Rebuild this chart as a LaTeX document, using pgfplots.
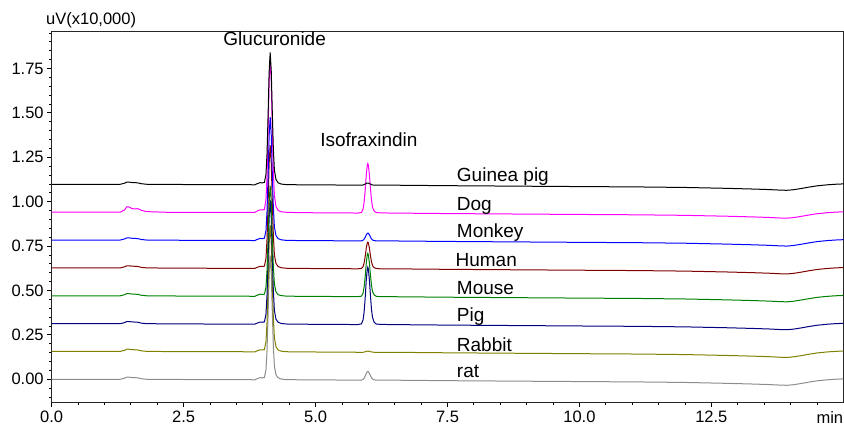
\documentclass[border=0pt]{standalone}
\usepackage{fontspec}
\setmainfont{Liberation Sans}
\usepackage{pgfplots}
\usepackage{pgfplotstable}
\pgfplotsset{compat=1.18}
\definecolor{cgpig}{RGB}{0,0,0}
\definecolor{cdog}{RGB}{255,0,255}
\definecolor{cmonkey}{RGB}{0,0,255}
\definecolor{chuman}{RGB}{128,0,0}
\definecolor{cmouse}{RGB}{0,128,0}
\definecolor{cpig}{RGB}{0,0,128}
\definecolor{crabbit}{RGB}{128,128,0}
\definecolor{crat}{RGB}{140,140,140}

\pgfplotstableread{
t rat rabbit pig mouse human monkey dog gpig
0.00 0.000 0.157 0.313 0.470 0.627 0.784 0.941 1.098
0.50 0.000 0.157 0.313 0.470 0.627 0.784 0.941 1.098
1.00 0.000 0.157 0.313 0.470 0.627 0.784 0.941 1.098
1.30 0.000 0.157 0.313 0.470 0.627 0.784 0.941 1.098
1.38 0.006 0.163 0.319 0.476 0.633 0.790 0.953 1.104
1.42 0.012 0.169 0.325 0.482 0.639 0.796 0.971 1.110
1.46 0.012 0.169 0.325 0.482 0.639 0.796 0.971 1.110
1.52 0.010 0.167 0.323 0.480 0.637 0.794 0.961 1.108
1.58 0.009 0.166 0.322 0.479 0.636 0.793 0.959 1.107
1.63 0.008 0.165 0.321 0.478 0.635 0.792 0.961 1.106
1.70 0.003 0.160 0.316 0.473 0.630 0.787 0.951 1.101
1.80 0.000 0.157 0.313 0.470 0.627 0.784 0.944 1.098
2.20 -0.001 0.156 0.312 0.469 0.626 0.783 0.940 1.097
3.00 -0.002 0.155 0.311 0.468 0.625 0.782 0.939 1.096
3.60 -0.002 0.155 0.311 0.468 0.625 0.782 0.939 1.096
3.85 -0.003 0.154 0.310 0.467 0.624 0.781 0.940 1.095
3.90 0.004 0.161 0.317 0.474 0.631 0.788 0.948 1.102
3.95 0.009 0.166 0.322 0.479 0.636 0.793 0.954 1.107
3.99 0.008 0.165 0.321 0.478 0.635 0.792 0.953 1.106
4.03 0.010 0.167 0.323 0.479 0.637 0.794 0.956 1.108
4.06 0.052 0.210 0.365 0.516 0.679 0.836 1.010 1.153
4.08 0.160 0.320 0.473 0.612 0.786 0.943 1.142 1.268
4.10 0.361 0.525 0.674 0.791 0.985 1.142 1.390 1.482
4.12 0.592 0.761 0.905 0.997 1.214 1.372 1.678 1.728
4.14 0.697 0.868 1.010 1.090 1.318 1.476 1.808 1.840
4.16 0.599 0.768 0.912 1.003 1.221 1.379 1.686 1.736
4.18 0.382 0.547 0.695 0.810 1.006 1.163 1.417 1.505
4.20 0.186 0.347 0.499 0.635 0.811 0.969 1.173 1.296
4.22 0.074 0.233 0.387 0.536 0.700 0.857 1.034 1.177
4.25 0.025 0.183 0.338 0.492 0.652 0.809 0.973 1.125
4.29 0.008 0.165 0.321 0.476 0.635 0.792 0.951 1.106
4.35 0.001 0.158 0.314 0.471 0.628 0.785 0.943 1.099
4.45 -0.002 0.155 0.311 0.468 0.625 0.782 0.940 1.096
4.70 -0.003 0.154 0.310 0.467 0.624 0.781 0.938 1.095
5.30 -0.004 0.153 0.309 0.466 0.623 0.780 0.937 1.094
5.80 -0.005 0.152 0.308 0.465 0.622 0.779 0.936 1.093
5.87 -0.005 0.152 0.312 0.468 0.624 0.779 0.939 1.093
5.90 -0.001 0.152 0.334 0.485 0.634 0.783 0.958 1.094
5.92 0.006 0.153 0.379 0.519 0.655 0.789 0.997 1.096
5.94 0.018 0.155 0.457 0.577 0.691 0.799 1.064 1.099
5.96 0.032 0.157 0.554 0.650 0.736 0.812 1.147 1.102
5.98 0.043 0.158 0.621 0.702 0.768 0.822 1.206 1.105
5.99 0.044 0.158 0.631 0.709 0.772 0.823 1.214 1.105
6.00 0.043 0.158 0.621 0.702 0.768 0.822 1.206 1.105
6.02 0.033 0.157 0.560 0.655 0.739 0.813 1.153 1.102
6.04 0.020 0.155 0.470 0.587 0.697 0.801 1.075 1.099
6.06 0.008 0.154 0.392 0.528 0.661 0.790 1.008 1.096
6.08 0.001 0.153 0.347 0.494 0.640 0.784 0.969 1.094
6.11 -0.003 0.152 0.321 0.475 0.628 0.781 0.947 1.093
6.15 -0.005 0.152 0.311 0.467 0.624 0.779 0.939 1.093
6.22 -0.005 0.152 0.309 0.465 0.622 0.779 0.937 1.093
6.40 -0.005 0.152 0.308 0.465 0.622 0.779 0.936 1.093
7.50 -0.008 0.149 0.305 0.462 0.619 0.776 0.933 1.090
9.00 -0.011 0.146 0.302 0.459 0.616 0.773 0.930 1.087
10.00 -0.013 0.144 0.300 0.457 0.614 0.771 0.928 1.085
11.10 -0.015 0.142 0.298 0.455 0.612 0.769 0.926 1.083
12.00 -0.018 0.139 0.295 0.452 0.609 0.766 0.923 1.080
12.80 -0.023 0.134 0.290 0.447 0.604 0.761 0.918 1.075
13.30 -0.027 0.130 0.286 0.443 0.600 0.757 0.914 1.071
13.60 -0.030 0.127 0.283 0.440 0.597 0.754 0.911 1.068
13.80 -0.033 0.124 0.280 0.437 0.594 0.751 0.908 1.065
13.93 -0.034 0.123 0.279 0.436 0.593 0.750 0.907 1.064
14.05 -0.031 0.126 0.282 0.439 0.596 0.753 0.910 1.067
14.20 -0.024 0.133 0.289 0.446 0.603 0.760 0.917 1.074
14.35 -0.016 0.141 0.297 0.454 0.611 0.768 0.925 1.082
14.50 -0.009 0.148 0.304 0.461 0.618 0.775 0.932 1.089
14.70 -0.003 0.154 0.310 0.467 0.624 0.781 0.938 1.095
14.85 0.000 0.157 0.313 0.470 0.627 0.784 0.941 1.098
15.00 0.002 0.159 0.315 0.472 0.629 0.786 0.943 1.100
}\chrom

\begin{document}
\begin{tikzpicture}
\begin{axis}[
  scale only axis,
  width=791.6pt, height=371.7pt,
  xmin=0, xmax=15, ymin=-0.132, ymax=1.961,
  clip mode=individual,
  axis line style={black!85, line width=0.8pt},
  tick align=outside,
  xtick pos=lower, ytick pos=left,
  major tick length=4.5pt, minor tick length=2.7pt,
  tick style={black, line width=0.8pt},
  xtick={0,2.5,5,7.5,10,12.5},
  minor xtick={0.5,1,1.5,2,3,3.5,4,4.5,5.5,6,6.5,7,8,8.5,9,9.5,10.5,11,11.5,12,13,13.5,14,14.5},
  ytick={0,0.25,0.5,0.75,1,1.25,1.5,1.75},
  minor ytick={-0.1,-0.05,0.05,0.1,0.15,0.2,0.3,0.35,0.4,0.45,0.55,0.6,0.65,0.7,0.8,0.85,0.9,0.95,1.05,1.1,1.15,1.2,1.3,1.35,1.4,1.45,1.55,1.6,1.65,1.7,1.8,1.85,1.9,1.95},
  scaled ticks=false,
  /pgf/number format/assume math mode=true,
  xticklabel style={/pgf/number format/.cd, fixed, fixed zerofill, precision=1},
  yticklabel style={/pgf/number format/.cd, fixed, fixed zerofill, precision=2},
  tick label style={font=\fontsize{16.5}{18}\selectfont},
  every axis plot/.append style={line width=1pt},
]
\addplot[crat] table[x=t,y=rat]{\chrom};
\addplot[crabbit] table[x=t,y=rabbit]{\chrom};
\addplot[cpig] table[x=t,y=pig]{\chrom};
\addplot[cmouse] table[x=t,y=mouse]{\chrom};
\addplot[chuman] table[x=t,y=human]{\chrom};
\addplot[cmonkey] table[x=t,y=monkey]{\chrom};
\addplot[cdog] table[x=t,y=dog]{\chrom};
\addplot[cgpig] table[x=t,y=gpig]{\chrom};

\begin{scope}[every node/.style={inner sep=0pt, font=\fontsize{19}{22}\selectfont}]
\node[anchor=base west] at (axis cs:7.675,1.113) {Guinea pig};
\node[anchor=base west] at (axis cs:7.675,0.953) {Dog};
\node[anchor=base west] at (axis cs:7.675,0.797) {Monkey};
\node[anchor=base west] at (axis cs:7.65,0.634) {Human};
\node[anchor=base west] at (axis cs:7.675,0.475) {Mouse};
\node[anchor=base west] at (axis cs:7.675,0.324) {Pig};
\node[anchor=base west] at (axis cs:7.675,0.155) {Rabbit};
\node[anchor=base west] at (axis cs:7.675,0.009) {rat};
\node[anchor=base] at (axis cs:4.225,1.877) {Glucuronide};
\node[anchor=base] at (axis cs:6.01,1.308) {Isofraxindin};
\end{scope}
\node[anchor=base west, inner sep=0pt, xshift=-5.7pt, yshift=6.5pt, font=\fontsize{16.5}{18}\selectfont] at (rel axis cs:0,1) {uV(x10,000)};
\node[anchor=north east, inner sep=0pt, yshift=-8.6pt, font=\fontsize{16.5}{18}\selectfont] at (rel axis cs:1,0) {min};
\end{axis}
\path (-51.7pt,-22.3pt) rectangle (792.3pt,402.7pt);
\end{tikzpicture}
\end{document}
